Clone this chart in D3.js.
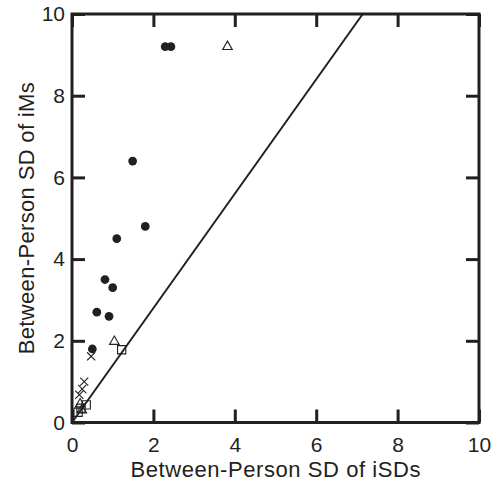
<!DOCTYPE html>
<html>
<head>
<meta charset="utf-8">
<script src="https://cdn.jsdelivr.net/npm/d3@7"></script>
<style>
  body { margin: 0; background: #fff; }
  text { font-family: "Liberation Sans", Arial, sans-serif; fill: #231f20; }
</style>
</head>
<body>
<div id="chart"></div>
<script>
// values
var xTicks = [0, 2, 4, 6, 8, 10];
var yTicks = [0, 2, 4, 6, 8, 10];

var circleX = [2.29, 2.43, 1.49, 1.8, 1.1, 0.81, 1.0, 0.61, 0.91, 0.5];
var circleY = [9.2, 9.2, 6.4, 4.8, 4.5, 3.5, 3.3, 2.7, 2.6, 1.8];

var triangleX = [3.82, 1.04, 0.2, 0.24];
var triangleY = [9.2, 1.98, 0.45, 0.3];

var squareX = [1.22, 0.35, 0.15, 0.22];
var squareY = [1.78, 0.43, 0.25, 0.35];

var crossX = [0.47, 0.3, 0.25, 0.18];
var crossY = [1.62, 1.0, 0.82, 0.68];

var lineSlope = 1.4;

var W = 498, H = 486;
var margin = {left: 72, right: 19, top: 14, bottom: 63.5};
var ink = "#231f20";

var svg = d3.select("#chart").append("svg")
    .attr("width", W)
    .attr("height", H);

var x = d3.scaleLinear().domain([0, 10]).range([margin.left, W - margin.right]);
var y = d3.scaleLinear().domain([0, 10]).range([H - margin.bottom, margin.top]);

var tickLen = 13;

function styleAxis(g) {
    g.select(".domain").remove();
    g.selectAll(".tick line").attr("stroke", ink).attr("stroke-width", 3);
    g.selectAll(".tick text").style("font-size", "21px").attr("fill", ink);
}

svg.append("g")
    .attr("transform", "translate(0," + y(0) + ")")
    .call(d3.axisBottom(x).tickValues(xTicks).tickSize(-tickLen).tickPadding(14.5))
    .call(styleAxis);

svg.append("g")
    .attr("transform", "translate(" + x(0) + ",0)")
    .call(d3.axisLeft(y).tickValues(yTicks).tickSize(-tickLen).tickPadding(7))
    .call(styleAxis);

svg.append("g")
    .attr("transform", "translate(0," + y(10) + ")")
    .call(d3.axisTop(x).tickValues(xTicks).tickSize(-tickLen).tickFormat(""))
    .call(styleAxis);

svg.append("g")
    .attr("transform", "translate(" + x(10) + ",0)")
    .call(d3.axisRight(y).tickValues(yTicks).tickSize(-tickLen).tickFormat(""))
    .call(styleAxis);

// frame
svg.append("rect")
    .attr("x", x(0))
    .attr("y", y(10))
    .attr("width", x(10) - x(0))
    .attr("height", y(0) - y(10))
    .attr("fill", "none")
    .attr("stroke", ink)
    .attr("stroke-width", 3);

// reference line through origin
svg.append("line")
    .attr("x1", x(0)).attr("y1", y(0))
    .attr("x2", x(10 / lineSlope)).attr("y2", y(10))
    .attr("stroke", ink)
    .attr("stroke-width", 2);

function zip(xs, ys) {
    return xs.map(function (v, i) { return {x: v, y: ys[i]}; });
}

function drawMarks(data, type, size, filled) {
    svg.append("g").selectAll("path")
        .data(data)
        .enter().append("path")
        .attr("transform", function (d) { return "translate(" + x(d.x) + "," + y(d.y) + ")"; })
        .attr("d", d3.symbol().type(type).size(size))
        .attr("fill", filled ? ink : "none")
        .attr("stroke", filled ? "none" : ink)
        .attr("stroke-width", 1.1);
}

drawMarks(zip(squareX, squareY), d3.symbolSquare, 68, false);
drawMarks(zip(triangleX, triangleY), d3.symbolTriangle, 40, false);
drawMarks(zip(crossX, crossY), d3.symbolTimes || d3.symbolX, 45, false);
drawMarks(zip(circleX, circleY), d3.symbolCircle, 60, true);

// axis titles
svg.append("text")
    .attr("x", (x(0) + x(10)) / 2)
    .attr("y", 477)
    .attr("text-anchor", "middle")
    .style("font-size", "22px")
    .attr("textLength", 290)
    .text("Between-Person SD of iSDs");

svg.append("text")
    .attr("transform", "translate(34," + (y(0) + y(10)) / 2 + ") rotate(-90)")
    .attr("text-anchor", "middle")
    .style("font-size", "22px")
    .attr("textLength", 272)
    .text("Between-Person SD of iMs");
</script>
</body>
</html>
